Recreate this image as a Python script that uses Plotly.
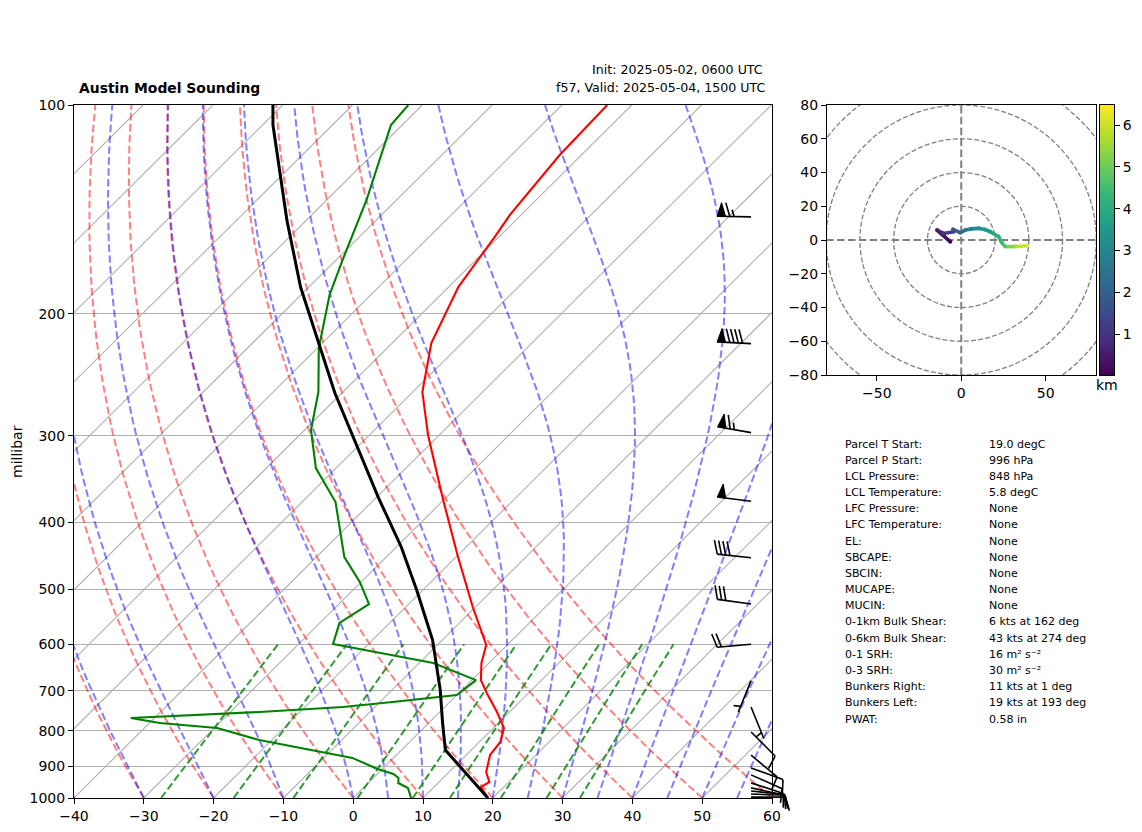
import numpy as np
import plotly.graph_objects as go
from plotly.colors import sample_colorscale

# Temperature profile
temp_p = [100, 106.2, 118.1, 144.1, 155.1, 183.1, 220.5, 259.6, 299.4, 367.9, 447.6, 530.2,
          601.4, 638.4, 675.9, 705.6, 751.4, 792.4, 830.1, 866.6, 917.2, 948.2, 964.1, 1000]
temp_c = [-63.5, -63.4, -63.1, -61.6, -60.6, -58.6, -54.4, -48.6, -41.6, -30.6, -19.9, -10.4,
          -3.0, -1.1, 1.3, 4.0, 8.2, 11.5, 13.0, 13.4, 15.3, 17.2, 16.7, 19.3]

# Dewpoint profile
dewp_p = [100, 106.9, 137.1, 168.5, 188, 224.2, 259.6, 294.4, 334.2, 374, 449.1, 487.8, 524.9,
          559, 599.3, 638.4, 675.9, 710.2, 727, 739.1, 751.4, 766.7, 779.5, 792.4, 824.8, 858.6,
          875.3, 908, 923.3, 935.6, 951.4, 967.3, 1000]
dewp_c = [-92.0, -91.6, -84.3, -78.9, -75.9, -69.8, -63.5, -59.1, -52.9, -45.2, -36.0, -30.2, -25.7,
          -27.2, -25.1, -8.0, 0.6, 0.0, -8.2, -14.6, -25.8, -43.4, -38.5, -29.6, -21.8, -11.3,
          -5.9, -0.7, 2.3, 3.6, 4.3, 6.4, 8.3]

# Parcel path
parcel_p = [100, 106.9, 146.6, 183.1, 260.4, 311.5, 369.1, 434.3, 500.9, 591.6, 698.5, 779.5, 852.8, 1000]
parcel_c = [-111.4, -108.5, -92.8, -81.2, -61.0, -50.0, -39.6, -29.3, -20.9, -11.4, -3.1, 2.0, 6.3, 19.3]

# Wind barbs
barb_p = [145, 221, 297, 373, 450, 525, 600, 677, 739, 803, 867, 905, 926, 951, 967, 977, 987, 997]
barb_spd = [65, 90, 65, 50, 40, 30, 20, 5, 5, 10, 10, 10, 10, 10, 10, 10, 10, 10]
barb_dir = [271, 273, 280, 277, 276, 278, 265, 202, 158, 135, 130, 110, 114, 108, 102, 96, 92, 90]

# Hodograph
hodo_u = [-6.5, -14.4, -10.5, -4.5, -4.9, -0.6, 2.4, 6.0, 10.3, 14.0, 17.2, 22.1, 24.0, 26.0, 32.0, 38.9]
hodo_v = [-1.0, 5.9, 3.9, 4.9, 6.3, 4.3, 5.9, 6.6, 6.9, 6.2, 4.9, 2.0, -1.5, -3.9, -3.9, -3.4]
hodo_km = [0.02, 0.5, 1.0, 1.5, 1.8, 2.2, 2.6, 2.9, 3.2, 3.5, 3.7, 4.1, 4.4, 4.8, 5.6, 6.2]
km_ticks = [1, 2, 3, 4, 5, 6]

# Table of indices
table_names = ["Parcel T Start:", "Parcel P Start:", "LCL Pressure:", "LCL Temperature:", "LFC Pressure:",
               "LFC Temperature:", "EL:", "SBCAPE:", "SBCIN:", "MUCAPE:", "MUCIN:", "0-1km Bulk Shear:",
               "0-6km Bulk Shear:", "0-1 SRH:", "0-3 SRH:", "Bunkers Right:", "Bunkers Left:", "PWAT:"]
table_values = ["19.0 degC", "996 hPa", "848 hPa", "5.8 degC", "None", "None", "None", "None", "None",
                "None", "None", "6 kts at 162 deg", "43 kts at 274 deg", "16 m² s⁻²", "30 m² s⁻²",
                "11 kts at 1 deg", "19 kts at 193 deg", "0.58 in"]

# Background families
isotherm_t = list(range(-140, 70, 10))
dry_t0 = list(range(-40, 70, 10))
moist_t0 = [-40, -30, -20, -10] + list(range(0, 65, 5))
mixing_w = [0.0004, 0.001, 0.002, 0.004, 0.007, 0.01, 0.016, 0.024, 0.032]

# the page adds an 8px body margin all round, so the figure is that much smaller
W, H = 1126, 816
MARGIN = 8
SKEW = 99.9
PX_PER_C = 6.98
PX_PER_DECADE = 693.0
KM_MIN, KM_MAX = 0.02, 6.48
FONT = "DejaVu Sans"


def skew_x(t, p):
    return np.asarray(t, dtype=float) + SKEW * np.log10(1000.0 / np.asarray(p, dtype=float))


def px(x):
    return (x - MARGIN) / W


def py(y):
    return 1 - (y - MARGIN) / H


def moist_profile(t0, p):
    # RK4 on the saturated lapse rate
    def rate(t, lnp):
        pr = np.exp(lnp)
        es = 6.112 * np.exp(17.67 * (t - 273.15) / (t - 29.65))
        rs = 0.622 * es / (pr - es)
        lv = 2.501e6
        return (287.0 * t + lv * rs) / (1005.0 + lv * lv * rs * 0.622 / (287.0 * t * t))
    out = [t0 + 273.15]
    lnp = np.log(p)
    for i in range(len(p) - 1):
        h = lnp[i + 1] - lnp[i]
        t = out[-1]
        k1 = rate(t, lnp[i])
        k2 = rate(t + h * k1 / 2, lnp[i] + h / 2)
        k3 = rate(t + h * k2 / 2, lnp[i] + h / 2)
        k4 = rate(t + h * k3, lnp[i] + h)
        out.append(t + h * (k1 + 2 * k2 + 2 * k3 + k4) / 6)
    return np.array(out) - 273.15


def barb_paths(p0, spd, direc, x0=57.0, length=34.0):
    # same layout as a matplotlib barb, worked out in screen pixels from the base
    height = 0.4 * length
    width = 0.25 * length
    spacing = 0.125 * length
    a = np.deg2rad(direc)
    ux, uy = np.sin(a), -np.cos(a)      # along the shaft, screen y goes down
    vx, vy = -uy, ux                    # side the ticks go on

    def to_data(s, t):
        dx = s * ux + t * vx
        dy = s * uy + t * vy
        return x0 + dx / PX_PER_C, 10 ** (np.log10(p0) + dy / PX_PER_DECADE)

    n_flag = spd // 50
    n_full = (spd % 50) // 10
    n_half = (spd % 10) // 5
    lines, flags = [[(0, 0), (length, 0)]], []
    off = length
    for i in range(n_flag):
        if off != length:
            off -= spacing / 2
        flags.append([(off, 0), (off - width / 2, height), (off - width, 0)])
        off -= width + spacing
    for i in range(n_full):
        lines.append([(off, 0), (off + width / 2, height)])
        off -= spacing
    if n_half:
        if off == length:
            off -= 1.5 * spacing
        lines.append([(off, 0), (off + width / 4, height / 2)])
    return ([[to_data(*q) for q in seg] for seg in lines],
            [[to_data(*q) for q in seg] for seg in flags])


fig = go.Figure()

# isotherms
for t in isotherm_t:
    pp = np.array([1000.0, 100.0])
    fig.add_trace(go.Scatter(x=skew_x([t, t], pp), y=pp, mode="lines",
                             line=dict(color="#b0b0b0", width=1.1), showlegend=False))

plev = np.geomspace(1000, 100, 60)
dash = "7.5px,3.4px"

# dry adiabats
for t0 in dry_t0:
    t = (t0 + 273.15) * (plev / 1000.0) ** 0.2857 - 273.15
    fig.add_trace(go.Scatter(x=skew_x(t, plev), y=plev, mode="lines",
                             line=dict(color="rgba(255,0,0,0.5)", width=2, dash=dash), showlegend=False))

# moist adiabats
for t0 in moist_t0:
    t = moist_profile(t0, plev)
    fig.add_trace(go.Scatter(x=skew_x(t, plev), y=plev, mode="lines",
                             line=dict(color="rgba(0,0,255,0.5)", width=2, dash=dash), showlegend=False))

# mixing ratio lines
pmix = np.linspace(1000, 600, 12)
for w in mixing_w:
    e = pmix * w / (0.622 + w)
    ln = np.log(e / 6.112)
    td = 243.5 * ln / (17.67 - ln)
    fig.add_trace(go.Scatter(x=skew_x(td, pmix), y=pmix, mode="lines",
                             line=dict(color="rgba(0,128,0,0.8)", width=2, dash=dash), showlegend=False))

# soundings
fig.add_trace(go.Scatter(x=skew_x(temp_c, temp_p), y=temp_p, mode="lines",
                         line=dict(color="#ff0000", width=2.1), showlegend=False))
fig.add_trace(go.Scatter(x=skew_x(dewp_c, dewp_p), y=dewp_p, mode="lines",
                         line=dict(color="#008000", width=2.1), showlegend=False))
fig.add_trace(go.Scatter(x=skew_x(parcel_c, parcel_p), y=parcel_p, mode="lines",
                         line=dict(color="#000000", width=3), showlegend=False))

# barbs go on a wider copy of the axes so they can run past the frame
xs, ys, fx, fy = [], [], [], []
for p0, s, d in zip(barb_p, barb_spd, barb_dir):
    lines, flags = barb_paths(p0, s, d)
    for seg in lines:
        xs += [q[0] for q in seg] + [None]
        ys += [q[1] for q in seg] + [None]
    for seg in flags:
        fx += [q[0] for q in seg] + [seg[0][0], None]
        fy += [q[1] for q in seg] + [seg[0][1], None]
fig.add_trace(go.Scatter(x=fx, y=fy, mode="lines", fill="toself", fillcolor="black",
                         line=dict(color="black", width=1), xaxis="x2", yaxis="y2", showlegend=False))
fig.add_trace(go.Scatter(x=xs, y=ys, mode="lines", line=dict(color="black", width=1.6),
                         xaxis="x2", yaxis="y2", showlegend=False))

# hodograph, one colour per piece
fracs = [(0.5 * (hodo_km[i] + hodo_km[i + 1]) - KM_MIN) / (KM_MAX - KM_MIN) for i in range(len(hodo_km) - 1)]
seg_colors = sample_colorscale("Viridis", fracs)
for i in range(len(hodo_u) - 1):
    fig.add_trace(go.Scatter(x=hodo_u[i:i + 2], y=hodo_v[i:i + 2], mode="lines",
                             line=dict(color=seg_colors[i], width=3.6),
                             xaxis="x3", yaxis="y3", showlegend=False))
fig.add_trace(go.Scatter(x=hodo_u, y=hodo_v, mode="markers",
                         marker=dict(size=4, color=hodo_km, colorscale="Viridis", cmin=KM_MIN, cmax=KM_MAX),
                         xaxis="x3", yaxis="y3", showlegend=False))

# height colour bar as its own little panel
levels = np.linspace(KM_MIN, KM_MAX, 256)
fig.add_trace(go.Heatmap(x=[0, 1], y=levels, z=np.column_stack([levels, levels]), colorscale="Viridis",
                         zmin=KM_MIN, zmax=KM_MAX, showscale=False, xaxis="x4", yaxis="y4"))

# hodograph rings and cross
shapes = []
for r in [20, 40, 60, 80, 100]:
    shapes.append(dict(type="circle", xref="x3", yref="y3", x0=-r, x1=r, y0=-r, y1=r, layer="below",
                       line=dict(color="#808080", width=1.3, dash="5px,2.2px")))
for a in [dict(x0=-80, x1=80, y0=0, y1=0), dict(x0=0, x1=0, y0=-80, y1=80)]:
    shapes.append(dict(type="line", xref="x3", yref="y3", layer="below",
                       line=dict(color="#808080", width=2, dash="7.5px,3.4px"), **a))

# text
notes = [
    dict(x=px(77), y=py(88), text="<b>Austin Model Sounding</b>", size=13.9),
    dict(x=px(590), y=py(70), text="Init: 2025-05-02, 0600 UTC", size=12.6),
    dict(x=px(554), y=py(88), text="f57, Valid: 2025-05-04, 1500 UTC", size=12.6),
    dict(x=px(1094), y=py(385), text="km", size=14),
]
for i, (a, b) in enumerate(zip(table_names, table_values)):
    y = 444 + i * 16.18
    notes.append(dict(x=px(843), y=py(y), text=a, size=11))
    notes.append(dict(x=px(987), y=py(y), text=b, size=11))
annotations = [dict(x=n["x"], y=n["y"], text=n["text"], xref="paper", yref="paper", xanchor="left", yanchor="middle",
                    showarrow=False, font=dict(family=FONT, size=n["size"], color="black")) for n in notes]
annotations.append(dict(x=px(17), y=py(452), text="millibar", xref="paper", yref="paper", textangle=-90,
                        xanchor="center", yanchor="middle", showarrow=False,
                        font=dict(family=FONT, size=14, color="black")))

axis_style = dict(showline=True, mirror=True, linecolor="black", linewidth=1.1, ticks="outside", ticklen=5,
                  tickcolor="black", tickfont=dict(family=FONT, size=14, color="black"), zeroline=False)

fig.update_layout(
    width=W, height=H, margin=dict(l=0, r=0, t=0, b=0, autoexpand=False),
    paper_bgcolor="white", plot_bgcolor="rgba(0,0,0,0)", showlegend=False,
    shapes=shapes, annotations=annotations,
    xaxis=dict(domain=[px(74), px(772)], range=[-40, 60], tickmode="array", tickvals=list(range(-40, 70, 10)),
               showgrid=False, anchor="y", **axis_style),
    yaxis=dict(domain=[py(798), py(105)], type="log", range=[3, 2], tickmode="array",
               tickvals=list(range(100, 1100, 100)), ticktext=[str(v) for v in range(100, 1100, 100)],
               showgrid=True, gridcolor="#b0b0b0", gridwidth=1.1, anchor="x", **axis_style),
    xaxis2=dict(domain=[px(74), px(800)], range=[-40, -40 + (800 - 74) / PX_PER_C], visible=False, anchor="y2"),
    yaxis2=dict(domain=[py(822), py(105)], type="log", range=[3 + 24 / PX_PER_DECADE, 2], visible=False, anchor="x2"),
    xaxis3=dict(domain=[px(827), px(1096)], range=[-79.5, 79.8], tickmode="array", tickvals=[-50, 0, 50],
                showgrid=False, anchor="y3", **axis_style),
    yaxis3=dict(domain=[py(375), py(105)], range=[-80, 80], tickmode="array", tickvals=list(range(-80, 100, 20)),
                showgrid=False, anchor="x3", **axis_style),
    xaxis4=dict(domain=[px(1100), px(1114)], range=[0, 1], showline=True, mirror=True, linecolor="black", linewidth=1.1,
                showticklabels=False, ticks="", showgrid=False, zeroline=False, anchor="y4"),
    yaxis4=dict(domain=[py(375), py(105)], range=[KM_MIN, KM_MAX], side="right", tickmode="array", tickvals=km_ticks,
                showline=True, mirror=True, linecolor="black", linewidth=1.1, ticks="outside", ticklen=5, tickcolor="black",
                tickfont=dict(family=FONT, size=14, color="black"), showgrid=False, zeroline=False, anchor="x4"),
)

fig.write_html("out.html")
